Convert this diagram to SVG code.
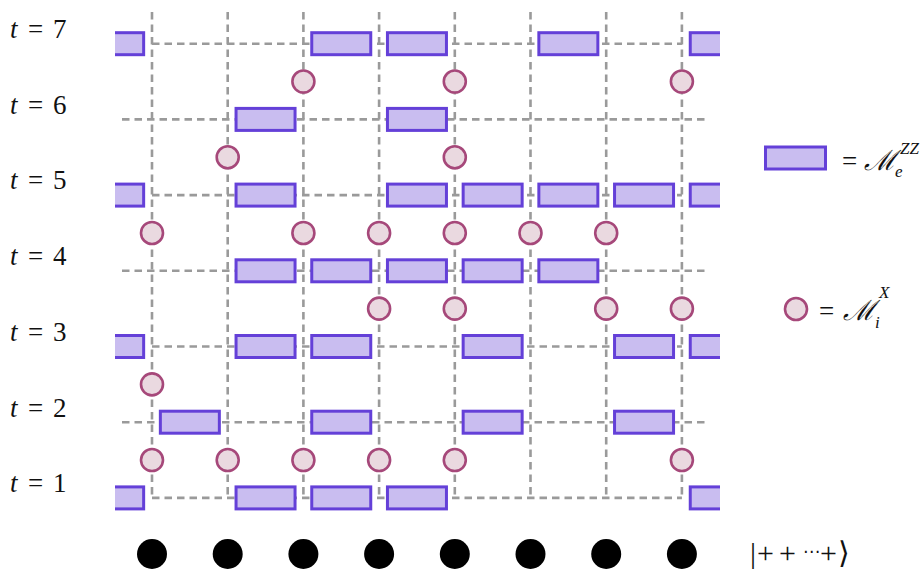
<svg xmlns="http://www.w3.org/2000/svg" width="924" height="570" viewBox="0 0 924 570">
<style>
.g{stroke:#9a9a9a;stroke-width:2.6;stroke-dasharray:7.5 5;fill:none}
.e{fill:#c9bdf0;stroke:#6440d8;stroke-width:3}
.m{fill:#ead9e0;stroke:#a6487a;stroke-width:2.6}
.q{fill:#000}
text{font-family:"Liberation Serif","DejaVu Serif",serif;fill:#111}
.lb{font-size:27px}
.kt{font-size:30px}
.it{font-style:italic}
.sm{font-size:17px;font-style:italic}
.sc{font-size:28px;font-style:italic}
</style>
<defs>
<clipPath id="cp"><rect x="115" y="0" width="605" height="570"/></clipPath>
</defs>
<rect width="924" height="570" fill="#fff"/>
<g id="grid">
<path class="g" d="M152 12V497.9M227.7 12V497.9M303.4 12V497.9M379.1 12V497.9M454.8 12V497.9M530.5 12V497.9M606.2 12V497.9M681.9 12V497.9"/>
<path class="g" d="M152 43.7H681.9M152 195.1H681.9M152 346.5H681.9M152 497.9H681.9"/>
<path class="g" d="M122 119.4H706M122 270.8H706M122 422.2H706"/>
</g>
<g id="labels">
<text class="lb" x="10" y="38"><tspan class="it">t</tspan><tspan x="28">=</tspan><tspan x="53">7</tspan></text>
<text class="lb" x="10" y="113.7"><tspan class="it">t</tspan><tspan x="28">=</tspan><tspan x="53">6</tspan></text>
<text class="lb" x="10" y="189.4"><tspan class="it">t</tspan><tspan x="28">=</tspan><tspan x="53">5</tspan></text>
<text class="lb" x="10" y="265.1"><tspan class="it">t</tspan><tspan x="28">=</tspan><tspan x="53">4</tspan></text>
<text class="lb" x="10" y="340.8"><tspan class="it">t</tspan><tspan x="28">=</tspan><tspan x="53">3</tspan></text>
<text class="lb" x="10" y="416.5"><tspan class="it">t</tspan><tspan x="28">=</tspan><tspan x="53">2</tspan></text>
<text class="lb" x="10" y="492.2"><tspan class="it">t</tspan><tspan x="28">=</tspan><tspan x="53">1</tspan></text>
</g>
<g id="edges" clip-path="url(#cp)">
<g id="row7">
<rect class="e" x="84.65" y="32.7" width="59" height="22"/>
<rect class="e" x="311.75" y="32.7" width="59" height="22"/>
<rect class="e" x="387.45" y="32.7" width="59" height="22"/>
<rect class="e" x="538.85" y="32.7" width="59" height="22"/>
<rect class="e" x="690.25" y="32.7" width="59" height="22"/>
</g>
<g id="row6">
<rect class="e" x="236.05" y="108.4" width="59" height="22"/>
<rect class="e" x="387.45" y="108.4" width="59" height="22"/>
</g>
<g id="row5">
<rect class="e" x="84.65" y="184.1" width="59" height="22"/>
<rect class="e" x="236.05" y="184.1" width="59" height="22"/>
<rect class="e" x="387.45" y="184.1" width="59" height="22"/>
<rect class="e" x="463.15" y="184.1" width="59" height="22"/>
<rect class="e" x="538.85" y="184.1" width="59" height="22"/>
<rect class="e" x="614.55" y="184.1" width="59" height="22"/>
<rect class="e" x="690.25" y="184.1" width="59" height="22"/>
</g>
<g id="row4">
<rect class="e" x="236.05" y="259.8" width="59" height="22"/>
<rect class="e" x="311.75" y="259.8" width="59" height="22"/>
<rect class="e" x="387.45" y="259.8" width="59" height="22"/>
<rect class="e" x="463.15" y="259.8" width="59" height="22"/>
<rect class="e" x="538.85" y="259.8" width="59" height="22"/>
</g>
<g id="row3">
<rect class="e" x="84.65" y="335.5" width="59" height="22"/>
<rect class="e" x="236.05" y="335.5" width="59" height="22"/>
<rect class="e" x="311.75" y="335.5" width="59" height="22"/>
<rect class="e" x="463.15" y="335.5" width="59" height="22"/>
<rect class="e" x="614.55" y="335.5" width="59" height="22"/>
<rect class="e" x="690.25" y="335.5" width="59" height="22"/>
</g>
<g id="row2">
<rect class="e" x="160.35" y="411.2" width="59" height="22"/>
<rect class="e" x="311.75" y="411.2" width="59" height="22"/>
<rect class="e" x="463.15" y="411.2" width="59" height="22"/>
<rect class="e" x="614.55" y="411.2" width="59" height="22"/>
</g>
<g id="row1">
<rect class="e" x="84.65" y="486.9" width="59" height="22"/>
<rect class="e" x="236.05" y="486.9" width="59" height="22"/>
<rect class="e" x="311.75" y="486.9" width="59" height="22"/>
<rect class="e" x="387.45" y="486.9" width="59" height="22"/>
<rect class="e" x="690.25" y="486.9" width="59" height="22"/>
</g>
</g>
<g id="measurements">
<g id="m67">
<circle class="m" cx="303.4" cy="81.55" r="11"/>
<circle class="m" cx="454.8" cy="81.55" r="11"/>
<circle class="m" cx="681.9" cy="81.55" r="11"/>
</g>
<g id="m56">
<circle class="m" cx="227.7" cy="157.25" r="11"/>
<circle class="m" cx="454.8" cy="157.25" r="11"/>
</g>
<g id="m45">
<circle class="m" cx="152" cy="232.95" r="11"/>
<circle class="m" cx="303.4" cy="232.95" r="11"/>
<circle class="m" cx="379.1" cy="232.95" r="11"/>
<circle class="m" cx="454.8" cy="232.95" r="11"/>
<circle class="m" cx="530.5" cy="232.95" r="11"/>
<circle class="m" cx="606.2" cy="232.95" r="11"/>
</g>
<g id="m34">
<circle class="m" cx="379.1" cy="308.65" r="11"/>
<circle class="m" cx="454.8" cy="308.65" r="11"/>
<circle class="m" cx="606.2" cy="308.65" r="11"/>
<circle class="m" cx="681.9" cy="308.65" r="11"/>
</g>
<g id="m23">
<circle class="m" cx="152" cy="384.35" r="11"/>
</g>
<g id="m12">
<circle class="m" cx="152" cy="460.05" r="11"/>
<circle class="m" cx="227.7" cy="460.05" r="11"/>
<circle class="m" cx="303.4" cy="460.05" r="11"/>
<circle class="m" cx="379.1" cy="460.05" r="11"/>
<circle class="m" cx="454.8" cy="460.05" r="11"/>
<circle class="m" cx="681.9" cy="460.05" r="11"/>
</g>
</g>
<g id="qubits">
<circle class="q" cx="152" cy="554" r="15"/>
<circle class="q" cx="227.7" cy="554" r="15"/>
<circle class="q" cx="303.4" cy="554" r="15"/>
<circle class="q" cx="379.1" cy="554" r="15"/>
<circle class="q" cx="454.8" cy="554" r="15"/>
<circle class="q" cx="530.5" cy="554" r="15"/>
<circle class="q" cx="606.2" cy="554" r="15"/>
<circle class="q" cx="681.9" cy="554" r="15"/>
<text class="kt" x="750" y="563">|<tspan x="757" y="563">+</tspan><tspan x="779" y="563">+</tspan><tspan x="803" y="557" font-family="DejaVu Sans" font-size="17">⋯</tspan><tspan x="820" y="563">+</tspan><tspan x="838" y="563">⟩</tspan></text>
</g>
<g id="legend-edge">
<rect class="e" x="765.5" y="147" width="60" height="22"/>
<text class="lb" x="842" y="170">=<tspan class="sc" x="864">ℳ</tspan><tspan class="sm" x="895" y="177">e</tspan><tspan class="sm" x="900" y="154">ZZ</tspan></text>
</g>
<g id="legend-meas">
<circle class="m" cx="796" cy="309" r="11"/>
<text class="lb" x="819" y="320">=<tspan class="sc" x="843">ℳ</tspan><tspan class="sm" x="875" y="328">i</tspan><tspan class="sm" x="879" y="298">X</tspan></text>
</g>
</svg>
